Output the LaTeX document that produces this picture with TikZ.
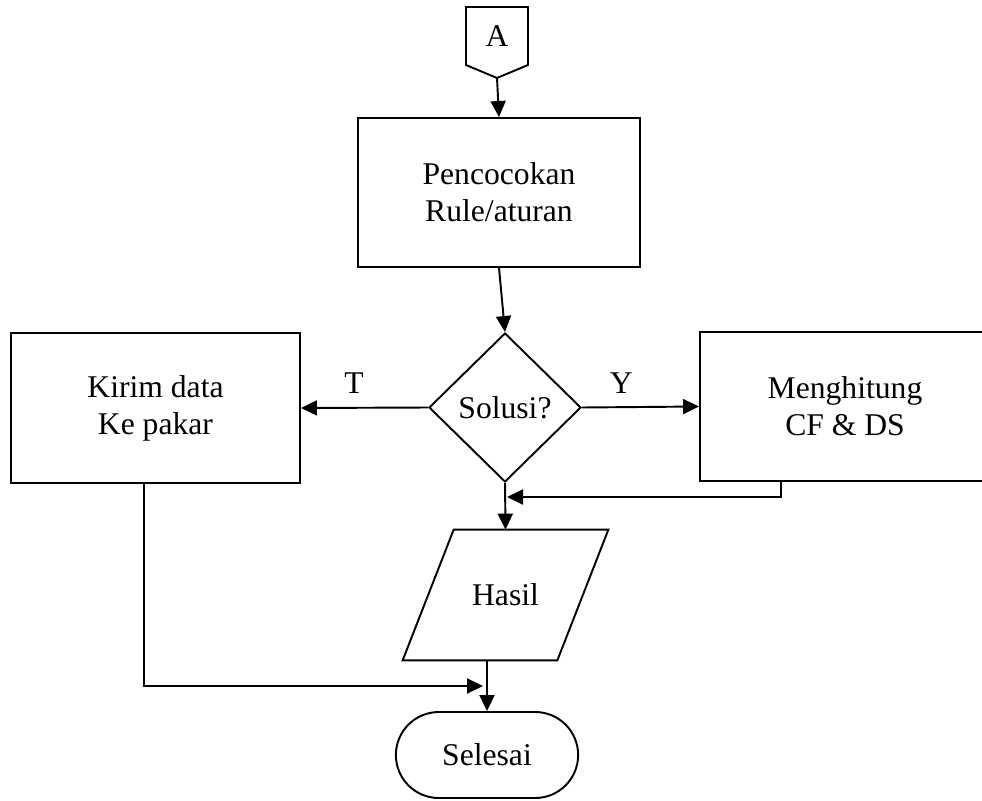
\documentclass[tikz,border=0pt]{standalone}
\usepackage{fontspec}
\setmainfont{Liberation Serif}
\usetikzlibrary{arrows.meta,shapes,positioning,calc}
\tikzstyle{procbox}=[rectangle, draw, line width=1.1pt, align=center, font=\fontsize{18}{21}\selectfont]
\tikzstyle{decnode}=[diamond, draw, line width=1.1pt, inner sep=0pt, font=\fontsize{18}{21}\selectfont]
\tikzstyle{ionode}=[rectangle, minimum width=154*0.02cm, minimum height=130*0.02cm, font=\fontsize{18}{21}\selectfont]
\tikzstyle{endnode}=[rounded rectangle, draw, line width=1.1pt, font=\fontsize{18}{21}\selectfont]
\tikzstyle{lbl}=[font=\fontsize{18}{21}\selectfont]
\tikzstyle{outline}=[line width=1.1pt]
\tikzstyle{flow}=[-{Triangle[length=0.32cm,width=0.3cm]}, line width=1.1pt]

\begin{document}
\begin{tikzpicture}[x=0.02cm, y=-0.02cm]
        \useasboundingbox (0,0) rectangle (982,800);
        \draw[outline] (466,7) -- (528,7) -- (528,65) -- (497,78) -- (466,65) -- cycle;
        \node[lbl] (a) at (497,36) {A};
        \coordinate (atip) at (497,78);
        \node[procbox, minimum width=282*0.02cm, minimum height=149*0.02cm] (match) at (499,192.5) {Pencocokan\\Rule/aturan};
        \node[decnode, minimum width=152*0.02cm, minimum height=149*0.02cm] (sol) at (505,407.5) {Solusi?};
        \node[procbox, minimum width=289*0.02cm, minimum height=150*0.02cm] (kirim) at (155.5,408) {Kirim data\\Ke pakar};
        \node[procbox, minimum width=290*0.02cm, minimum height=149*0.02cm] (cf) at (845,406.5) {Menghitung\\CF \& DS};
        \node[ionode] (hasil) at (505.5,595) {Hasil};
        \draw[outline] ($(hasil.north west)+(25.5,0)$) -- ($(hasil.north east)+(25.5,0)$)
          -- ($(hasil.south east)+(-25.5,0)$) -- ($(hasil.south west)+(-25.5,0)$) -- cycle;
        \node[endnode, minimum width=194*0.02cm, minimum height=86*0.02cm] (done) at (487,755) {Selesai};
        \coordinate (join) at (507,497);
        \coordinate (mrg) at (483,686);
        \draw[flow] (atip) -- (match.north);
        \draw[flow] (match.south) -- (sol.north);
        \draw[flow] (sol.west) -- (kirim.east) node[lbl, midway, above=4pt, xshift=-6pt]{T};
        \draw[flow] (sol.east) -- (cf.west) node[lbl, midway, above=4pt, xshift=-11pt]{Y};
        \draw[flow] (sol.south) -- (hasil.north);
        \draw[flow] (cf.south west) ++(82,0) |- (join);
        \draw[flow] (hasil.south -| done.north) -- (done.north);
        \draw[flow] (kirim.south west) ++(134,0) |- (mrg);
      \end{tikzpicture}
\end{document}
